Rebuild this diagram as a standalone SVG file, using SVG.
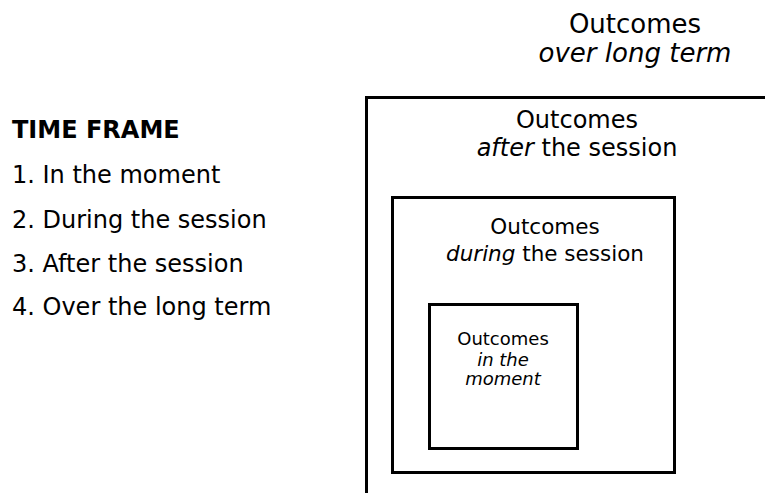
<svg xmlns="http://www.w3.org/2000/svg" width="765" height="493" viewBox="0 0 765 493">
<style>
text{font-family:"DejaVu Sans",Verdana,sans-serif;fill:#000}
.box{fill:none;stroke:#000;stroke-width:3}
.c{text-anchor:middle}
.i{font-style:italic}
</style>
<rect width="765" height="493" fill="#fff"/>
<g id="legend">
<text x="12" y="138" font-size="24" font-weight="bold">TIME FRAME</text>
<text x="12" y="183" font-size="24">1. In the moment</text>
<text x="12" y="228" font-size="24">2. During the session</text>
<text x="12" y="272" font-size="24">3. After the session</text>
<text x="12" y="315" font-size="24">4. Over the long term</text>
</g>
<g id="long-term">
<text class="c" x="635" y="33" font-size="26">Outcomes</text>
<text class="c i" x="635" y="62" font-size="26">over long term</text>
</g>
<g id="after">
<rect class="box" x="366.5" y="97.5" width="500" height="500"/>
<text class="c" x="577" y="128" font-size="24">Outcomes</text>
<text class="c" x="577" y="156" font-size="24"><tspan class="i">after</tspan> the session</text>
</g>
<g id="during">
<rect class="box" x="392.5" y="197.5" width="282" height="275"/>
<text class="c" x="545" y="234" font-size="21.5">Outcomes</text>
<text class="c" x="545" y="261" font-size="21.5"><tspan class="i">during</tspan> the session</text>
</g>
<g id="moment">
<rect class="box" x="429.5" y="304.5" width="148" height="144"/>
<text class="c" x="503" y="345" font-size="18">Outcomes</text>
<text class="c i" x="503" y="366" font-size="18">in the</text>
<text class="c i" x="503" y="385" font-size="18">moment</text>
</g>
<g id="connectors"/>
</svg>
